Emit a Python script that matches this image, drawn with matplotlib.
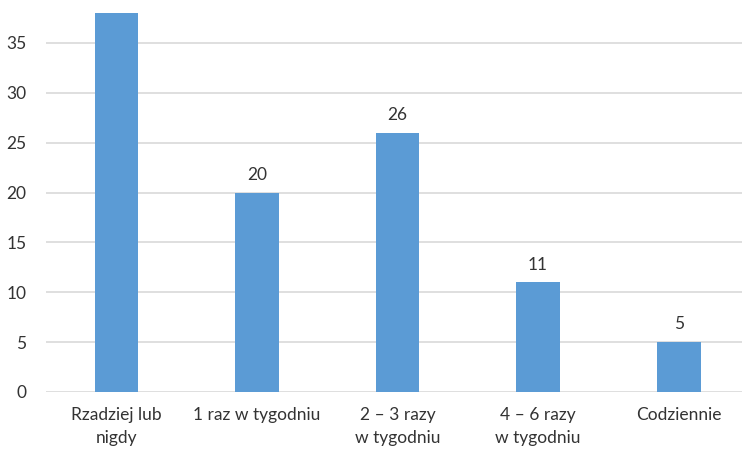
import matplotlib.pyplot as plt

categories = ["Rzadziej lub\nnigdy", "1 raz w tygodniu", "2 – 3 razy\nw tygodniu",
              "4 – 6 razy\nw tygodniu", "Codziennie"]
values = [38, 20, 26, 11, 5]
yticks = [0, 5, 10, 15, 20, 25, 30, 35]

plt.rcParams["font.family"] = ["Lato", "DejaVu Sans"]
text_color = "#333333"
ymax = 39.3

fig = plt.figure(figsize=(7.42, 4.5), dpi=100)
ax = fig.add_axes([46 / 742, 58 / 450, 1 - 46 / 742, 1 - 58 / 450])

x = range(len(categories))
bars = ax.bar(x, values, width=0.31, color="#5B9BD5", zorder=3)

# value labels; the tallest bar's label lies above the cropped chart area
for rect, v in zip(bars, values):
    if v + 3.5 > ymax:
        continue
    ax.annotate(str(v), (rect.get_x() + rect.get_width() / 2, v),
                xytext=(0, 7), textcoords="offset points",
                ha="center", va="bottom", fontsize=12.5, color=text_color)

ax.set_xlim(-0.5, 4.45)
ax.set_ylim(0, ymax)
ax.set_yticks(yticks)
ax.set_xticks(list(x))
ax.set_xticklabels(categories, linespacing=1.5)
ax.grid(axis="y", color="#D9D9D9", linewidth=1.2, zorder=0)
for s in ax.spines.values():
    s.set_visible(False)
ax.tick_params(axis="y", length=0, pad=14, labelsize=12.5, labelcolor=text_color)
ax.tick_params(axis="x", length=0, pad=11, labelsize=12.5, labelcolor=text_color)

fig.savefig("out.png", dpi=100)
